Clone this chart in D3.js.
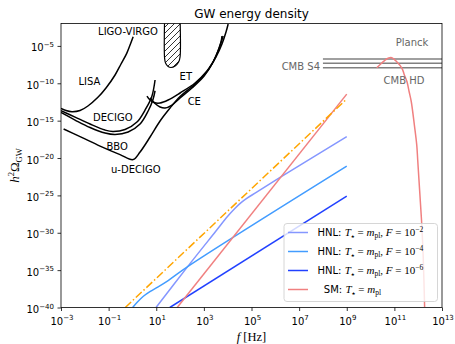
<!DOCTYPE html>
<html>
<head>
<meta charset="utf-8">
<script src="https://cdnjs.cloudflare.com/ajax/libs/d3/7.8.5/d3.min.js"></script>
<style>
  body { margin: 0; background: #fff; }
  svg { display: block; font-family: "DejaVu Sans", sans-serif; }
  text { white-space: pre; }
</style>
</head>
<body>
<svg id="chart" width="455" height="344"></svg>
<script>
// all curves are [log10 f, log10 h^2 Omega] pairs
const lisaLog = [[-3, -13.35], [-2.79, -13.65], [-2.54, -13.81], [-2.2, -13.65], [-1.87, -13.04],
  [-1.45, -11.88], [-1.11, -10.63], [-0.73, -8.89], [-0.48, -7.42], [-0.24, -5.99], [-0.1, -4.88], [0.03, -3.77]];
const decigoLog = [[-3, -13.65], [-2.41, -14.52], [-1.78, -15.45], [-1.15, -16.26], [-0.82, -16.46],
  [-0.31, -16.19], [0.19, -15.19], [0.53, -13.58], [0.81, -11.8], [0.95, -9.56]];
const bboLog = [[-3, -13.91], [-2.41, -14.92], [-1.78, -15.92], [-1.15, -16.66], [-0.73, -16.86],
  [-0.18, -16.52], [0.32, -15.45], [0.66, -13.71], [0.86, -12.2], [0.95, -11.0]];
const udecigoLog = [[-2.89, -16.12], [-2.2, -17.13], [-1.36, -18.4], [-0.52, -19.54], [0.03, -20.21],
  [0.32, -19.2], [0.74, -17.19], [1.16, -15.05], [1.58, -13.31], [2.0, -11.77], [2.63, -10.1],
  [3.18, -8.22], [3.51, -6.35], [3.72, -4.48], [3.76, -3.67]];
const etLog = [[0.61, -11.71], [0.74, -12.24], [0.91, -12.58], [1.16, -12.64], [1.5, -12.24], [2.0, -11.3],
  [2.63, -9.96], [3.13, -8.36], [3.51, -6.48], [3.76, -4.74], [3.93, -3.14], [4.02, -2.07]];
const ceLog = [[0.74, -11.97], [0.95, -12.71], [1.16, -13.18], [1.37, -13.31], [1.66, -12.91], [2.0, -11.97],
  [2.5, -10.63], [3.01, -9.03], [3.39, -7.15], [3.64, -5.28], [3.81, -3.67]];
const ligoLog = [[1.35, -1.5], [1.35, -6.62], [1.39, -7.29], [1.5, -7.76], [1.62, -7.89], [1.79, -7.69],
  [1.94, -7.15], [2.0, -6.48], [2.0, -1.5]];

const cmbNames = ['Planck', 'CMB S4', 'CMB HD'];
const cmbLevels = [-6.75, -7.33, -7.92];
const cmbFrom = 8;

const hnl2Log = [[0.99, -40], [2.31, -34.56], [3.5, -29.8], [4.0, -27.8], [4.3, -26.75], [4.55, -26.0],
  [4.8, -25.4], [5.2, -24.6], [6.2, -22.6], [9, -17.15]];
const hnl4Log = [[0.01, -40], [0.2, -39.3], [0.46, -38.5], [0.75, -37.85], [1.02, -37.35], [1.5, -36.4],
  [2.35, -34.46], [9, -21.08]];
const hnl6Log = [[1.57, -40], [9, -25.1]];
const smLog = [[1.88, -40], [9, -11.45]];
const smPeakLog = [[10.26, -7.92], [10.45, -7.35], [10.61, -6.89], [10.76, -6.62], [10.89, -6.58],
  [11.1, -7.11], [11.32, -8.0], [11.42, -8.89], [11.53, -9.79], [11.62, -11.13], [11.71, -12.47],
  [11.84, -15.59], [11.94, -18.27], [11.98, -20.27], [12.06, -24.29], [12.14, -28.3], [12.2, -32.3],
  [12.24, -36.3], [12.27, -39.95]];
const boundLog = [[-0.3, -40], [9, -12.1]];

const xTicks = [-3, -1, 1, 3, 5, 7, 9, 11, 13];
const yTicks = [-40, -35, -30, -25, -20, -15, -10, -5];

const W = 455, H = 344;
const margin = {left: 61, right: 13, top: 23.5, bottom: 36.5};
const serif = '"Liberation Serif", "DejaVu Serif", serif';

const svg = d3.select('#chart');
const x = d3.scaleLog().domain([1e-3, 1e13]).range([margin.left, W - margin.right]);
const y = d3.scaleLog().domain([1e-40, 1e-2]).range([H - margin.bottom, margin.top]);

const toPts = arr => arr.map(([a, b]) => [10 ** a, 10 ** b]);
const straight = d3.line().x(d => x(d[0])).y(d => y(d[1]));
const smooth = d3.line().x(d => x(d[0])).y(d => y(d[1])).curve(d3.curveCatmullRom.alpha(0.5));

const defs = svg.append('defs');
defs.append('clipPath').attr('id', 'plot-clip')
  .append('rect')
  .attr('x', margin.left).attr('y', margin.top)
  .attr('width', W - margin.left - margin.right)
  .attr('height', H - margin.top - margin.bottom);

const hatch = defs.append('pattern').attr('id', 'hatch')
  .attr('patternUnits', 'userSpaceOnUse').attr('width', 6).attr('height', 6);
hatch.append('rect').attr('width', 6).attr('height', 6).attr('fill', '#fff');
hatch.append('path').attr('d', 'M-1,1 l2,-2 M0,6 l6,-6 M5,7 l2,-2')
  .attr('stroke', '#000').attr('stroke-width', 0.8);

const plot = svg.append('g').attr('clip-path', 'url(#plot-clip)');

// experiment sensitivity curves
[lisaLog, decigoLog, bboLog, udecigoLog, etLog, ceLog].forEach(c => {
  plot.append('path').attr('d', smooth(toPts(c)))
    .attr('fill', 'none').attr('stroke', '#000').attr('stroke-width', 1.5);
});

plot.append('path').attr('d', smooth(toPts(ligoLog)))
  .attr('fill', 'url(#hatch)').attr('stroke', '#000').attr('stroke-width', 1.2);

// CMB bounds
cmbLevels.forEach(v => {
  plot.append('line')
    .attr('x1', x(10 ** cmbFrom)).attr('x2', x(1e13))
    .attr('y1', y(10 ** v)).attr('y2', y(10 ** v))
    .attr('stroke', '#808080').attr('stroke-width', 1.5);
});

// spectra
const series = [
  {d: hnl2Log, color: '#8597ff', curve: smooth},
  {d: hnl4Log, color: '#439cff', curve: smooth},
  {d: hnl6Log, color: '#2141ff', curve: straight},
  {d: smLog, color: '#f08080', curve: straight},
  {d: smPeakLog, color: '#f08080', curve: smooth}
];
series.forEach(s => {
  plot.append('path').attr('d', s.curve(toPts(s.d)))
    .attr('fill', 'none').attr('stroke', s.color).attr('stroke-width', 1.5);
});
plot.append('path').attr('d', straight(toPts(boundLog)))
  .attr('fill', 'none').attr('stroke', '#ffa500').attr('stroke-width', 1.5)
  .attr('stroke-dasharray', '8,2.5,1.5,2.5');

// annotations
const notes = [
  {t: 'LIGO-VIRGO', x: 128, y: 35.3},
  {t: 'LISA', x: 89.5, y: 84.6},
  {t: 'DECIGO', x: 112.8, y: 121},
  {t: 'BBO', x: 117.2, y: 149.6},
  {t: 'u-DECIGO', x: 135.8, y: 173},
  {t: 'ET', x: 185.8, y: 80.3},
  {t: 'CE', x: 194.3, y: 105.3}
];
notes.forEach(n => {
  svg.append('text').attr('x', n.x).attr('y', n.y).attr('text-anchor', 'middle')
    .attr('font-size', 10).attr('fill', '#000').text(n.t);
});
const cmbText = [
  {t: cmbNames[0], x: 412, y: 46, a: 'middle'},
  {t: cmbNames[1], x: 320, y: 70.3, a: 'end'},
  {t: cmbNames[2], x: 404, y: 83.6, a: 'middle'}
];
cmbText.forEach(n => {
  svg.append('text').attr('x', n.x).attr('y', n.y).attr('text-anchor', n.a)
    .attr('font-size', 10).attr('fill', '#666').text(n.t);
});

// axes
const xAxis = svg.append('g').attr('transform', `translate(0,${H - margin.bottom})`)
  .call(d3.axisBottom(x).tickValues(xTicks.map(e => 10 ** e)).tickSize(3.5).tickFormat(''));
const yAxis = svg.append('g').attr('transform', `translate(${margin.left},0)`)
  .call(d3.axisLeft(y).tickValues(yTicks.map(e => 10 ** e)).tickSize(3.5).tickFormat(''));
[xAxis, yAxis].forEach(a => {
  a.select('.domain').remove();
  a.selectAll('.tick line').attr('stroke', '#000').attr('stroke-width', 0.8);
});

function rich(text, parts) {
  let shift = 0;
  parts.forEach(p => {
    const ts = text.append('tspan').text(p.t);
    if (p.font) ts.attr('font-family', p.font);
    if (p.it) ts.attr('font-style', 'italic');
    if (p.size) ts.attr('font-size', p.size);
    const s = p.shift || 0;
    if (s !== shift) ts.attr('dy', s - shift);
    shift = s;
  });
}
const expText = e => (e < 0 ? '\u2212' + (-e) : String(e));

xTicks.forEach(e => {
  const t = svg.append('text').attr('x', x(10 ** e) + 1).attr('y', 324.5)
    .attr('text-anchor', 'middle').attr('font-size', 10);
  rich(t, [{t: '10'}, {t: expText(e), size: 7, shift: -4.5}]);
});
yTicks.forEach(e => {
  const t = svg.append('text').attr('x', 54).attr('y', y(10 ** e) + 5.5)
    .attr('text-anchor', 'end').attr('font-size', 10);
  rich(t, [{t: '10'}, {t: expText(e), size: 7, shift: -4.5}]);
});

svg.append('rect')
  .attr('x', margin.left).attr('y', margin.top)
  .attr('width', W - margin.left - margin.right)
  .attr('height', H - margin.top - margin.bottom)
  .attr('fill', 'none').attr('stroke', '#000').attr('stroke-width', 0.8);

// titles
svg.append('text').attr('x', 251.5).attr('y', 17.5).attr('text-anchor', 'middle')
  .attr('font-size', 12).text('GW energy density');

const xl = svg.append('text').attr('x', 251.5).attr('y', 340.5).attr('text-anchor', 'middle')
  .attr('font-size', 12.5).attr('font-family', serif);
rich(xl, [{t: 'f', it: true}, {t: ' [Hz]'}]);

const yl = svg.append('text').attr('transform', `translate(19,${(margin.top + H - margin.bottom) / 2}) rotate(-90)`)
  .attr('text-anchor', 'middle').attr('font-size', 13).attr('font-family', serif);
rich(yl, [{t: 'h', it: true}, {t: '2', size: 8.5, shift: -5}, {t: '\u03A9'}, {t: 'GW', size: 8.5, shift: 2.5}]);

// legend
const legendRows = [
  {label: 'HNL:', F: -2, color: '#8597ff'},
  {label: 'HNL:', F: -4, color: '#439cff'},
  {label: 'HNL:', F: -6, color: '#2141ff'},
  {label: '  SM:', F: null, color: '#f08080'}
];
const lg = svg.append('g');
lg.append('rect').attr('x', 284).attr('y', 223.5).attr('width', 153.5).attr('height', 78)
  .attr('rx', 3).attr('fill', '#fff').attr('fill-opacity', 0.8)
  .attr('stroke', '#ccc').attr('stroke-width', 0.8);
legendRows.forEach((r, i) => {
  const cy = 232.5 + i * 19;
  lg.append('line').attr('x1', 288).attr('x2', 308).attr('y1', cy).attr('y2', cy)
    .attr('stroke', r.color).attr('stroke-width', 1.5);
  const t = lg.append('text').attr('x', 317.5).attr('y', cy + 3.6).attr('font-size', 10);
  const parts = [
    {t: r.label + ' '},
    {t: 'T', font: serif, it: true, size: 11},
    {t: '\u2605', size: 4.5, shift: 2},
    {t: ' = ', font: serif, size: 11},
    {t: 'm', font: serif, it: true, size: 11},
    {t: 'pl', font: serif, size: 7.5, shift: 2}
  ];
  if (r.F !== null) {
    parts.push({t: ', ', font: serif, size: 11}, {t: 'F', font: serif, it: true, size: 11},
      {t: ' = ', font: serif, size: 11},
      {t: '10', font: serif, size: 11}, {t: expText(r.F), font: serif, size: 7.5, shift: -4});
  }
  rich(t, parts);
});
</script>
</body>
</html>
